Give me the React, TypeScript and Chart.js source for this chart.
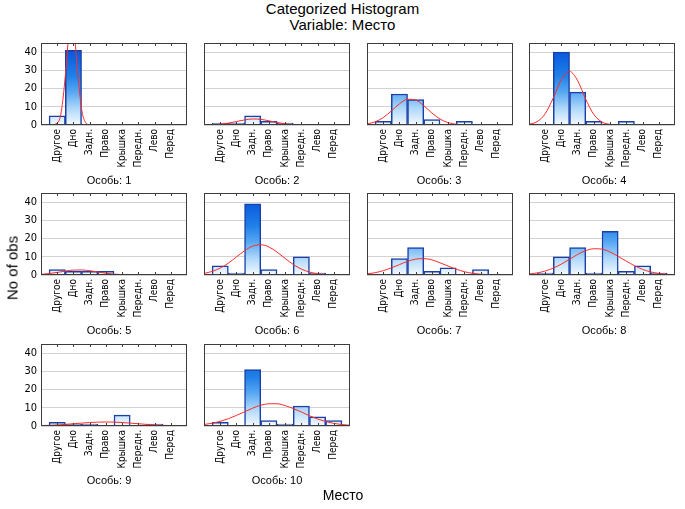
import React, { useEffect, useRef } from "react";
import { Chart, registerables } from "chart.js";
Chart.register(...registerables);

// ---------- data ----------
const categories = ["Другое", "Дно", "Задн.", "Право", "Крышка", "Передн.", "Лево", "Перед"];
const panelLabels = ["Особь: 1", "Особь: 2", "Особь: 3", "Особь: 4", "Особь: 5", "Особь: 6", "Особь: 7", "Особь: 8", "Особь: 9", "Особь: 10"];
const yTickLabels = [0, 10, 20, 30, 40];
const yMax = 45;

const counts1 = [5, 41, 0, 0, 0, 0, 0, 0];
const counts2 = [1, 1, 5, 2, 1, 0, 0, 0];
const counts3 = [2, 17, 14, 3, 0, 2, 0, 0];
const counts4 = [0, 40, 18, 2, 0, 2, 0, 0];
const counts5 = [3, 2, 2, 2, 0, 0, 0, 0];
const counts6 = [5, 1, 39, 3, 0, 10, 1, 0];
const counts7 = [0, 9, 15, 2, 4, 0, 3, 0];
const counts8 = [1, 10, 15, 1, 24, 2, 5, 1];
const counts9 = [2, 1, 1, 0, 6, 0, 1, 0];
const counts10 = [2, 0, 31, 3, 1, 11, 5, 3];

// fitted-curve positions (category units: Другое = 1 ... Перед = 8)
const curveX = [0, 0.5, 1, 1.5, 2, 2.5, 3, 3.5, 4, 4.5, 5, 5.5, 6, 6.5, 7, 7.5, 8, 8.5, 9];
const curveX1 = [0, 0.5, 1, 1.25, 1.5, 1.75, 1.87, 2, 2.25, 2.5, 2.75, 3, 3.5, 4, 5, 6, 7, 8, 9];

const curve1 = [0, 0, 1.0, 7.3, 27, 53, 58.6, 55, 30, 8.8, 1.35, 0.1, 0, 0, 0, 0, 0, 0, 0];
const curve2 = [0.04, 0.15, 0.45, 1.0, 1.9, 2.8, 3.3, 3.1, 2.3, 1.35, 0.64, 0.24, 0.07, 0.02, 0, 0, 0, 0, 0];
const curve3 = [0.58, 1.73, 4.07, 7.7, 11.6, 14.1, 13.7, 10.6, 6.6, 3.27, 1.3, 0.41, 0.11, 0.02, 0, 0, 0, 0, 0];
const curve4 = [0.38, 1.82, 6.2, 14.9, 25.0, 29.4, 24.3, 14.1, 5.7, 1.63, 0.33, 0.05, 0, 0, 0, 0, 0, 0, 0];
const curve5 = [0.36, 0.79, 1.43, 2.16, 2.69, 2.77, 2.36, 1.67, 0.98, 0.47, 0.19, 0.06, 0.02, 0, 0, 0, 0, 0, 0];
const curve6 = [0.88, 1.95, 3.8, 6.5, 9.9, 13.3, 15.8, 16.6, 15.4, 12.6, 9.1, 5.8, 3.27, 1.63, 0.72, 0.28, 0.1, 0.03, 0];
const curve7 = [0.6, 1.27, 2.36, 3.9, 5.7, 7.5, 8.7, 9.0, 8.3, 6.7, 4.9, 3.17, 1.82, 0.93, 0.42, 0.17, 0.06, 0.02, 0];
const curve8 = [0.55, 1.14, 2.19, 3.8, 6.0, 8.6, 11.3, 13.4, 14.4, 14.2, 12.6, 10.2, 7.6, 5.1, 3.09, 1.71, 0.86, 0.39, 0.16];
const curve9 = [0.22, 0.37, 0.6, 0.89, 1.23, 1.59, 1.9, 2.12, 2.2, 2.12, 1.9, 1.59, 1.23, 0.89, 0.6, 0.37, 0.22, 0.12, 0.06];
const curve10 = [0.83, 1.5, 2.55, 4.0, 5.8, 7.8, 9.8, 11.4, 12.2, 12.2, 11.2, 9.6, 7.7, 5.6, 3.86, 2.45, 1.44, 0.79, 0.4];

const countsList = [counts1, counts2, counts3, counts4, counts5, counts6, counts7, counts8, counts9, counts10];
const curveList = [curve1, curve2, curve3, curve4, curve5, curve6, curve7, curve8, curve9, curve10];
const curveXList = [curveX1, curveX, curveX, curveX, curveX, curveX, curveX, curveX, curveX, curveX];

// ---------- layout ----------
const COL_LEFT = [41, 204, 367, 529];
const ROW_TOP = [43, 193, 344];
const PLOT_W = 146;
const PLOT_H = 82;
const AX_W = 30;
const PAD_T = 8;
const PAD_R = 4;
const AX_H = 52;
const CANVAS_W = AX_W + PLOT_W + PAD_R;
const CANVAS_H = PAD_T + PLOT_H + AX_H;
const LABEL_DX = [-5, 0, -1, 2];
const LABEL_Y = [180, 330, 480];

const NARROW = '"Liberation Sans Narrow", "DejaVu Sans Condensed", "Liberation Sans", Arial, sans-serif';
const SANS = '"Liberation Sans", Arial, sans-serif';

const framePlugin = {
  id: "frame",
  afterDatasetsDraw(chart: any) {
    const { ctx, chartArea: a, scales } = chart;
    ctx.save();
    ctx.strokeStyle = "#3c3c3c";
    ctx.lineWidth = 1;
    ctx.strokeRect(Math.round(a.left) + 0.5, Math.round(a.top) + 0.5, Math.round(a.width) - 1, Math.round(a.height) - 1);
    ctx.beginPath();
    for (let i = 1; i <= categories.length; i++) {
      const px = Math.round(scales.x.getPixelForValue(i)) + 0.5;
      ctx.moveTo(px, a.top);
      ctx.lineTo(px, a.top + 3);
      ctx.moveTo(px, a.bottom);
      ctx.lineTo(px, a.bottom - 3);
    }
    ctx.stroke();
    ctx.restore();
  },
};

function barFill(c: any) {
  const chart = c.chart;
  const a = chart.chartArea;
  if (!a) return "#7ab8f0";
  const g = chart.ctx.createLinearGradient(0, a.bottom, 0, a.top);
  g.addColorStop(0, "#f4faff");
  g.addColorStop(0.2, "#b0d8fa");
  g.addColorStop(0.4, "#58a8f2");
  g.addColorStop(0.6, "#2080e8");
  g.addColorStop(0.9, "#0858dc");
  g.addColorStop(1, "#0050d0");
  return g;
}

export default function App() {
  const refs = useRef<(HTMLCanvasElement | null)[]>([]);

  useEffect(() => {
    const charts: Chart[] = [];
    countsList.forEach((counts, idx) => {
      const canvas = refs.current[idx];
      if (!canvas) return;
      const col = idx % 4;
      const showY = col === 0;
      const curve = curveList[idx];
      const cx = curveXList[idx];
      const chart = new Chart(canvas, {
        type: "bar",
        data: {
          datasets: [
            {
              type: "line",
              data: cx.map((x, i) => ({ x, y: curve[i] })),
              borderColor: "#ff2a2a",
              borderWidth: 1,
              pointRadius: 0,
              cubicInterpolationMode: "monotone",
              fill: false,
              order: 1,
            } as any,
            {
              type: "bar",
              data: counts.map((v, i) => ({ x: i + 1, y: v })),
              backgroundColor: barFill,
              borderColor: "#1a40a8",
              borderWidth: 1.5,
              barPercentage: 1,
              categoryPercentage: 1,
              order: 2,
            } as any,
          ],
        },
        options: {
          responsive: false,
          animation: false,
          devicePixelRatio: 1,
          events: [],
          layout: { padding: { top: PAD_T, right: PAD_R, left: 0, bottom: 0 } },
          plugins: { legend: { display: false }, tooltip: { enabled: false }, title: { display: false } },
          scales: {
            x: {
              type: "linear",
              min: 0,
              max: categories.length + 1,
              offset: false,
              grid: { display: false, drawTicks: false, offset: false },
              border: { display: false },
              afterBuildTicks: (s: any) => {
                s.ticks = categories.map((_, i) => ({ value: i + 1 }));
              },
              afterFit: (s: any) => {
                s.height = AX_H;
                s.paddingLeft = 0;
                s.paddingRight = 0;
              },
              ticks: {
                autoSkip: false,
                maxRotation: 90,
                minRotation: 90,
                padding: 4,
                color: "#000",
                font: { family: NARROW, size: 10 },
                callback: (v: any) => categories[Math.round(v) - 1] ?? "",
              },
            },
            y: {
              type: "linear",
              min: 0,
              max: yMax,
              grid: { color: "#d2d2d2", lineWidth: 1, drawTicks: false },
              border: { display: false },
              afterFit: (s: any) => {
                s.width = AX_W;
                s.paddingTop = 0;
                s.paddingBottom = 0;
              },
              ticks: {
                stepSize: 5,
                padding: 4,
                color: "#000",
                font: { family: NARROW, size: 11 },
                callback: (v: any) => (showY && yTickLabels.includes(v) ? String(v) : ""),
              },
            },
          },
        },
        plugins: [framePlugin],
      } as any);
      charts.push(chart);
    });
    return () => charts.forEach((c) => c.destroy());
  }, []);

  return (
    <div
      style={{
        position: "absolute",
        left: 0,
        top: 0,
        width: 685,
        height: 509,
        background: "#fff",
        fontFamily: SANS,
        color: "#000",
        overflow: "hidden",
      }}
    >
      <div style={{ position: "absolute", left: 0, top: 1, width: 685, textAlign: "center", fontSize: 15, lineHeight: "16px" }}>
        <div>Categorized Histogram</div>
        <div>Variable: Место</div>
      </div>
      {countsList.map((_, idx) => {
        const col = idx % 4;
        const row = Math.floor(idx / 4);
        return (
          <canvas
            key={"c" + idx}
            ref={(el) => {
              refs.current[idx] = el;
            }}
            width={CANVAS_W}
            height={CANVAS_H}
            style={{
              position: "absolute",
              left: COL_LEFT[col] - AX_W,
              top: ROW_TOP[row] - PAD_T,
              width: CANVAS_W,
              height: CANVAS_H,
            }}
          />
        );
      })}
      {panelLabels.map((t, idx) => {
        const col = idx % 4;
        const row = Math.floor(idx / 4);
        return (
          <div
            key={"l" + idx}
            style={{
              position: "absolute",
              left: COL_LEFT[col] + PLOT_W / 2 + LABEL_DX[col],
              top: LABEL_Y[row],
              transform: "translate(-50%, -50%)",
              fontSize: 11,
              whiteSpace: "nowrap",
            }}
          >
            {t}
          </div>
        );
      })}
      <div
        style={{
          position: "absolute",
          left: 12,
          top: 268,
          transform: "translate(-50%, -50%) rotate(-90deg)",
          fontSize: 15,
          whiteSpace: "nowrap",
        }}
      >
        No of obs
      </div>
      <div
        style={{
          position: "absolute",
          left: 343,
          top: 495,
          transform: "translate(-50%, -50%)",
          fontSize: 14,
          whiteSpace: "nowrap",
        }}
      >
        Место
      </div>
    </div>
  );
}
